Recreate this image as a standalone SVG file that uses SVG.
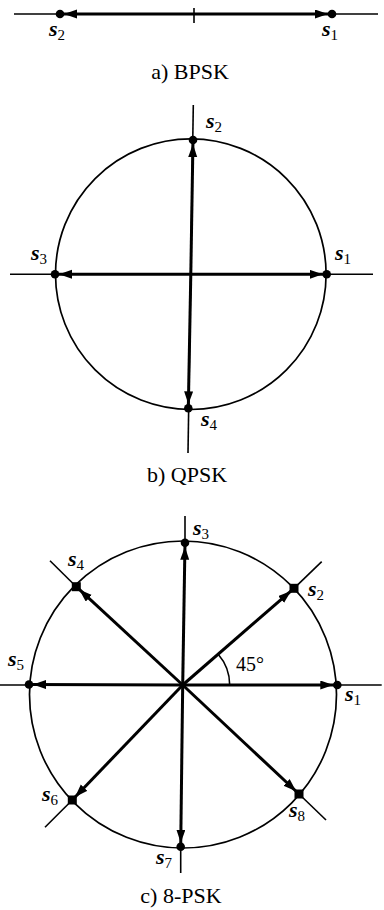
<svg xmlns="http://www.w3.org/2000/svg" width="384" height="910" viewBox="0 0 384 910">
<style>
.ax{stroke:#000;stroke-width:1.6;fill:none}
.circ{stroke:#000;stroke-width:1.7;fill:none}
.arr{stroke:#000;stroke-width:3;fill:none;marker-end:url(#ah)}
.dot{fill:#000}
.lab{font-family:"Liberation Serif","Times New Roman",serif;font-size:22px;font-style:italic;font-weight:bold;fill:#000}
.sub{font-style:normal;font-weight:normal;font-size:15px}
.cap{font-family:"Liberation Serif","Times New Roman",serif;font-size:22px;fill:#000;text-anchor:middle}
.ang{font-family:"Liberation Serif","Times New Roman",serif;font-size:20px;fill:#000}
</style>
<defs>
<marker id="ah" markerUnits="userSpaceOnUse" markerWidth="20" markerHeight="10" refX="17" refY="4.5" orient="auto">
<path d="M0,0 L13,4.5 L0,9 Z" fill="#000"/>
</marker>
</defs>

<!-- a) BPSK -->
<g id="bpsk-axes">
<line class="ax" x1="14" y1="14" x2="378" y2="14"/>
<line class="ax" x1="194" y1="8" x2="194" y2="23"/>
</g>
<g id="connectors">
<line class="arr" x1="194" y1="14" x2="60" y2="14"/>
<line class="arr" x1="194" y1="14" x2="332" y2="14"/>
<line class="arr" x1="190.8" y1="274.2" x2="326.7" y2="274.3"/>
<line class="arr" x1="190.8" y1="274.2" x2="55" y2="274.3"/>
<line class="arr" x1="190.8" y1="274.2" x2="193" y2="140"/>
<line class="arr" x1="190.8" y1="274.2" x2="188.3" y2="408.3"/>
<line class="arr" x1="182.7" y1="685" x2="337.3" y2="685"/>
<line class="arr" x1="182.7" y1="685" x2="294" y2="588.3"/>
<line class="arr" x1="182.7" y1="685" x2="185" y2="542.7"/>
<line class="arr" x1="182.7" y1="685" x2="76.3" y2="586.7"/>
<line class="arr" x1="182.7" y1="685" x2="29" y2="684.5"/>
<line class="arr" x1="182.7" y1="685" x2="72.3" y2="800"/>
<line class="arr" x1="182.7" y1="685" x2="180.7" y2="846.7"/>
<line class="arr" x1="182.7" y1="685" x2="299" y2="794"/>
</g>
<g id="bpsk-s2"><circle class="dot" cx="60" cy="14" r="4.3"/><text class="lab" x="49" y="36">s<tspan class="sub" dy="4">2</tspan></text></g>
<g id="bpsk-s1"><circle class="dot" cx="332" cy="14" r="4.3"/><text class="lab" x="322" y="36">s<tspan class="sub" dy="4">1</tspan></text></g>
<text class="cap" x="190" y="79">a) BPSK</text>

<!-- b) QPSK -->
<g id="qpsk-axes">
<circle class="circ" cx="190.8" cy="274.2" r="135.3"/>
<line class="ax" x1="10" y1="274.2" x2="373" y2="274.2"/>
<line class="ax" x1="193.3" y1="105" x2="188" y2="453"/>
</g>
<g id="qpsk-s1"><circle class="dot" cx="326.7" cy="274.3" r="4.3"/><text class="lab" x="335" y="260">s<tspan class="sub" dy="4">1</tspan></text></g>
<g id="qpsk-s2"><circle class="dot" cx="193" cy="140" r="4.3"/><text class="lab" x="206" y="128">s<tspan class="sub" dy="4">2</tspan></text></g>
<g id="qpsk-s3"><circle class="dot" cx="55" cy="274.3" r="4.3"/><text class="lab" x="31" y="260">s<tspan class="sub" dy="4">3</tspan></text></g>
<g id="qpsk-s4"><circle class="dot" cx="188.3" cy="408.3" r="4.3"/><text class="lab" x="201" y="426">s<tspan class="sub" dy="4">4</tspan></text></g>
<text class="cap" x="187" y="482">b) QPSK</text>

<!-- c) 8-PSK -->
<g id="psk8-axes">
<circle class="circ" cx="183" cy="694.5" r="153.5"/>
<line class="ax" x1="0" y1="685" x2="381.7" y2="685"/>
<line class="ax" x1="185" y1="516" x2="185" y2="543"/>
<line class="ax" x1="180.7" y1="846" x2="180.7" y2="873"/>
<line class="ax" x1="76.3" y1="586.7" x2="50" y2="560.7"/>
<line class="ax" x1="294" y1="588.3" x2="321.7" y2="561.7"/>
<line class="ax" x1="72.3" y1="800" x2="45" y2="827.3"/>
<line class="ax" x1="299" y1="794" x2="326" y2="820"/>
<path class="ax" d="M229.7,685 A47,47 0 0 0 218.2,654.2"/>
<text class="ang" x="236" y="671">45°</text>
</g>
<g id="psk8-s1"><circle class="dot" cx="337.3" cy="685" r="4.3"/><text class="lab" x="345" y="701">s<tspan class="sub" dy="4">1</tspan></text></g>
<g id="psk8-s2"><rect class="dot" x="289.5" y="583.8" width="9" height="9"/><text class="lab" x="308" y="596">s<tspan class="sub" dy="4">2</tspan></text></g>
<g id="psk8-s3"><circle class="dot" cx="185" cy="542.7" r="4.3"/><text class="lab" x="193" y="535">s<tspan class="sub" dy="4">3</tspan></text></g>
<g id="psk8-s4"><rect class="dot" x="71.8" y="582.2" width="9" height="9"/><text class="lab" x="68" y="566">s<tspan class="sub" dy="4">4</tspan></text></g>
<g id="psk8-s5"><circle class="dot" cx="29" cy="684.5" r="4.3"/><text class="lab" x="8" y="666">s<tspan class="sub" dy="4">5</tspan></text></g>
<g id="psk8-s6"><rect class="dot" x="67.8" y="795.5" width="9" height="9"/><text class="lab" x="42" y="801">s<tspan class="sub" dy="4">6</tspan></text></g>
<g id="psk8-s7"><circle class="dot" cx="180.7" cy="846.7" r="4.3"/><text class="lab" x="156" y="864">s<tspan class="sub" dy="4">7</tspan></text></g>
<g id="psk8-s8"><rect class="dot" x="294.5" y="789.5" width="9" height="9"/><text class="lab" x="289" y="817">s<tspan class="sub" dy="4">8</tspan></text></g>
<text class="cap" x="181" y="903">c) 8-PSK</text>
</svg>
